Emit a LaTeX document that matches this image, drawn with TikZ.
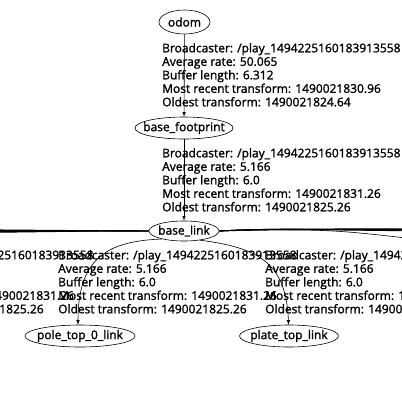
\documentclass[tikz,border=0pt]{standalone}
\usepackage{fontspec}
\setmainfont{Open Sans}[UprightFeatures={FakeBold=1.5}]
\usetikzlibrary{shapes.geometric, arrows}

\begin{document}
\begin{tikzpicture}[x=1pt,y=-1pt]
       \tikzstyle{arrow} = [semithick,->,>=latex]
       \tikzstyle{frame} = [ellipse, draw=black, semithick, inner sep=0pt, minimum height=22pt, font=\fontsize{12}{13.5}\selectfont]
       \tikzstyle{stats} = [anchor=north west, inner sep=0pt, align=left, font=\fontsize{12}{13.5}\selectfont]
       \useasboundingbox (0,0) rectangle (402,416);
       \clip (0,0) rectangle (402,416);
       \fill[white] (0,0) rectangle (402,416);

       \node[frame, minimum width=51pt, minimum height=24pt] (odom) at (184.5,22) {\makebox[0pt]{odom}};
       \node[frame, minimum width=98pt] (base_footprint) at (184,128) {\makebox[0pt]{base\_footprint}};
       \node[frame, minimum width=70pt, minimum height=20pt] (base_link) at (184,231) {\makebox[0pt]{base\_link}};
       \node[frame, minimum width=110pt] (pole_top_0_link) at (80,336) {\makebox[0pt]{pole\_top\_0\_link}};
       \node[frame, minimum width=99pt] (plate_top_link) at (289,336) {\makebox[0pt]{plate\_top\_link}};

       \node[stats] (odom-stats) at (162,43) {Broadcaster: /play\_1494225160183913558\\Average rate: 50.065\\Buffer length: 6.312\\Most recent transform: 1490021830.96\\Oldest transform: 1490021824.64};
       \node[stats] (footprint-stats) at (162,148) {Broadcaster: /play\_1494225160183913558\\Average rate: 5.166\\Buffer length: 6.0\\Most recent transform: 1490021831.26\\Oldest transform: 1490021825.26};
       \foreach \i/\x in {0/-145,1/58,2/265}
       {
         \node[stats] (link-stats-\i) at (\x,250) {Broadcaster: /play\_1494225160183913558\\Average rate: 5.166\\Buffer length: 6.0\\Most recent transform: 1490021831.26\\Oldest transform: 1490021825.26};
       }

       \draw [arrow] (odom) -- (base_footprint);
       \draw [arrow] (base_footprint) -- (base_link);
       \draw [arrow] (base_link.200) .. controls (105,241) and (78,260) .. (pole_top_0_link.100);
       \draw [arrow] (base_link.330) .. controls (262,248) and (286,265) .. (plate_top_link.92);

       % edges to the frames out of view
       \foreach \k/\y in {1/229.6,2/230.4,3/231.2,4/232,5/232.8}
       {
         \coordinate (west-\k) at (-40,\y);
         \draw [arrow, line width=0.9pt] (base_link.west) .. controls (110,230.8) .. (west-\k);
       }
       \foreach \k/\y in {1/228.8,2/229.6,3/230.4,4/231.2}
       {
         \coordinate (east-\k) at (440,\y);
         \draw [arrow, line width=0.9pt] (base_link.east) .. controls (260,229) .. (east-\k);
       }
       \coordinate (east-5) at (440,242);
       \draw [arrow] (base_link.east) .. controls (330,229) .. (east-5);
\end{tikzpicture}
\end{document}
